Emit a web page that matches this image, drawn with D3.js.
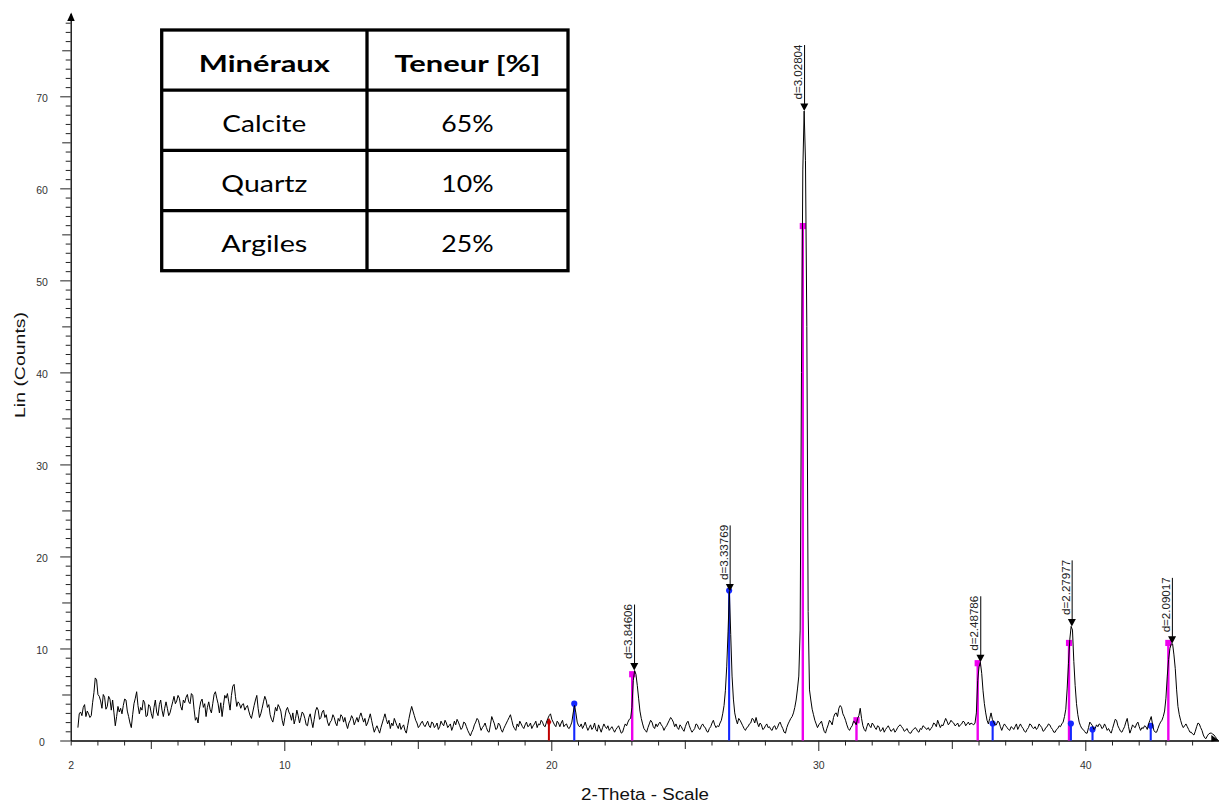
<!DOCTYPE html>
<html>
<head>
<meta charset="utf-8">
<script src="https://cdn.jsdelivr.net/npm/d3@7"></script>
<style>
  html, body { margin: 0; padding: 0; background: #fff; }
  svg { display: block; }
</style>
</head>
<body>
<svg id="chart" width="1219" height="808"></svg>
<script>
// ---- Scan: Lin (Counts) sampled every 0.05° 2θ starting at 2.27° ----
const scanStart = 2.27;
const scanStep = 0.05;
const counts = [
  1.4, 2.9, 3.1, 2.7, 3.6, 3.9, 2.6, 3.2, 2.9, 2.5, 2.7, 4.1, 5.2, 6.8, 6.6, 5.0,
  4.8, 4.3, 3.5, 5.0, 4.7, 3.4, 3.7, 4.8, 4.5, 3.3, 4.4, 3.0, 1.6, 2.6, 3.7, 3.1, 3.5, 2.9, 3.8, 4.5,
  4.4, 3.2, 2.6, 1.9, 1.4, 2.8, 4.0, 4.6, 5.3, 3.8, 2.9, 3.6, 3.3, 4.4, 4.1, 2.6, 2.7, 3.9, 3.7, 2.9,
  2.4, 3.6, 4.4, 3.1, 2.7, 3.9, 4.4, 3.3, 2.6, 3.5, 4.2, 3.5, 2.7, 3.0, 3.6, 4.2, 4.8, 4.0, 4.3, 4.9,
  4.6, 3.7, 3.3, 4.4, 4.1, 4.7, 5.0, 4.2, 4.0, 5.1, 4.9, 3.4, 2.2, 2.5, 1.9, 3.4, 4.2, 4.5, 3.6, 4.0,
  2.6, 3.6, 4.2, 3.4, 3.0, 4.0, 5.0, 5.3, 4.6, 4.0, 3.0, 4.1, 2.6, 3.8, 4.9, 4.6, 5.1, 4.2, 3.3, 4.9,
  5.9, 6.1, 4.8, 3.7, 4.2, 4.0, 3.5, 3.9, 4.0, 3.3, 3.6, 3.8, 3.2, 2.7, 2.4, 3.1, 3.8, 4.4, 4.9, 3.5,
  2.5, 2.9, 3.5, 4.2, 4.8, 4.4, 3.6, 3.9, 2.8, 2.3, 2.0, 2.7, 3.6, 3.2, 3.9, 3.6, 3.2, 2.2, 1.6, 2.5,
  3.3, 3.6, 3.1, 2.8, 2.2, 3.0, 1.8, 2.4, 3.3, 2.7, 1.9, 2.5, 3.1, 2.9, 2.4, 1.7, 1.6, 2.5, 2.9, 2.1,
  1.4, 2.3, 3.2, 3.6, 3.3, 2.3, 2.5, 3.1, 3.3, 2.5, 2.8, 2.0, 1.6, 2.0, 2.2, 2.8, 2.5, 1.9, 1.6, 2.4,
  2.1, 2.8, 2.6, 2.0, 2.5, 1.8, 1.3, 1.9, 2.2, 2.7, 2.4, 1.7, 2.1, 2.5, 2.0, 2.6, 3.0, 2.5, 2.0, 2.4,
  1.6, 1.9, 2.4, 2.9, 2.2, 1.5, 0.9, 1.3, 1.6, 1.2, 0.8, 1.4, 1.9, 2.4, 2.9, 2.3, 1.8, 2.2, 1.3, 1.9,
  1.6, 2.4, 2.0, 1.6, 1.3, 1.9, 1.2, 1.5, 1.7, 1.1, 0.8, 1.6, 2.4, 3.1, 3.7, 3.2, 2.7, 2.2, 1.9, 1.4,
  1.6, 1.9, 2.1, 1.7, 1.5, 1.8, 2.1, 1.6, 1.4, 2.0, 1.9, 1.4, 1.6, 1.9, 1.2, 1.5, 2.1, 1.8, 1.6, 2.2,
  1.9, 1.4, 1.6, 1.8, 1.1, 1.5, 2.1, 1.7, 2.3, 2.0, 1.6, 1.2, 1.4, 2.0, 1.9, 1.5, 1.1, 0.8, 0.5, 0.9,
  1.2, 1.7, 2.0, 2.4, 2.2, 1.6, 1.1, 1.4, 1.6, 1.9, 1.4, 1.0, 0.9, 1.7, 2.6, 2.2, 1.8, 1.2, 1.3, 1.9,
  1.7, 1.2, 0.9, 1.3, 1.6, 1.9, 2.2, 2.5, 2.8, 2.2, 1.6, 1.3, 1.1, 1.8, 1.5, 2.1, 1.8, 1.5, 1.3, 1.7,
  2.0, 1.5, 1.6, 1.9, 1.3, 1.6, 1.8, 2.1, 1.4, 1.8, 1.7, 2.2, 2.0, 1.6, 1.5, 2.0, 2.4, 2.7, 2.9, 2.3,
  2.0, 1.7, 1.5, 2.1, 1.9, 1.5, 1.9, 2.2, 1.5, 1.7, 1.8, 1.4, 1.3, 1.6, 2.0, 3.0, 3.8, 3.0, 2.0, 1.6,
  1.5, 1.8, 1.3, 1.6, 2.0, 1.5, 1.1, 1.4, 1.7, 1.2, 1.4, 1.9, 1.2, 1.0, 1.7, 1.3, 0.9, 1.4, 1.8, 1.5,
  1.3, 1.6, 1.1, 1.3, 1.5, 1.2, 0.9, 1.2, 1.4, 1.6, 1.2, 0.8, 0.9, 1.4, 1.8, 1.6, 2.0, 2.3, 2.4, 3.6,
  6.5, 7.6, 7.2, 6.0, 4.6, 3.2, 2.4, 1.8, 1.3, 1.1, 0.9, 1.4, 1.8, 2.2, 2.0, 1.5, 1.3, 1.8, 1.5, 1.8,
  2.0, 1.7, 1.5, 1.1, 1.4, 1.6, 1.9, 2.2, 2.5, 2.3, 2.0, 1.5, 1.8, 1.4, 1.2, 1.7, 1.5, 1.2, 1.0, 1.5,
  1.9, 2.1, 1.6, 1.2, 0.9, 1.1, 1.3, 1.8, 1.7, 1.3, 1.2, 1.6, 1.8, 1.5, 1.4, 1.0, 0.9, 1.3, 1.5, 1.9,
  2.2, 1.7, 1.4, 1.6, 1.5, 1.9, 2.2, 2.9, 3.8, 5.4, 8.0, 11.8, 16.2, 11.5, 7.0, 4.5, 3.0, 2.3, 1.8, 2.4,
  2.2, 1.9, 1.6, 1.3, 1.1, 1.4, 1.5, 1.8, 1.9, 2.4, 2.3, 1.9, 2.5, 1.9, 1.5, 1.9, 1.7, 1.2, 1.3, 1.6,
  1.8, 1.4, 1.5, 1.2, 1.1, 1.5, 1.6, 1.2, 1.4, 1.8, 2.0, 1.6, 1.3, 0.9, 0.8, 1.4, 1.8, 2.1, 2.4, 2.6,
  3.0, 3.6, 4.4, 5.6, 7.0, 12.0, 40.0, 62.0, 68.4, 63.0, 45.0, 14.0, 5.5, 4.4, 3.4, 2.8, 2.2, 1.8, 1.4, 1.7,
  1.9, 2.1, 1.5, 1.0, 0.8, 1.3, 1.7, 2.2, 2.0, 1.7, 2.5, 2.9, 3.0, 2.6, 3.5, 3.8, 3.6, 2.9, 2.6, 2.2,
  1.7, 1.3, 1.1, 1.4, 1.6, 2.1, 2.0, 1.7, 2.4, 2.7, 3.5, 2.4, 1.6, 1.2, 1.0, 1.5, 1.9, 1.6, 1.4, 1.9,
  1.7, 1.4, 1.2, 1.6, 1.5, 1.0, 1.1, 1.4, 0.9, 1.2, 1.4, 1.6, 1.3, 1.0, 1.1, 1.3, 0.9, 1.1, 1.4, 1.6,
  1.7, 1.5, 1.3, 1.0, 1.1, 1.3, 1.0, 0.8, 0.8, 1.1, 1.2, 1.4, 1.3, 1.0, 0.9, 1.3, 1.2, 1.6, 1.5, 1.3,
  1.2, 1.4, 1.1, 1.3, 1.5, 1.9, 1.8, 1.5, 2.2, 1.8, 1.4, 1.7, 1.6, 2.0, 2.4, 2.1, 1.7, 1.9, 2.2, 2.0,
  1.9, 1.6, 1.7, 1.9, 1.5, 1.7, 1.8, 2.1, 2.0, 1.6, 1.8, 2.0, 1.7, 1.9, 1.8, 1.7, 1.9, 3.0, 6.5, 8.0,
  8.5, 7.3, 5.4, 4.0, 3.0, 2.2, 1.8, 2.4, 3.0, 2.3, 2.0, 1.7, 1.7, 2.1, 2.0, 1.5, 1.1, 1.5, 1.8, 1.6,
  1.4, 1.2, 1.1, 1.5, 1.4, 1.2, 1.5, 1.8, 1.2, 1.5, 1.8, 1.5, 1.3, 1.0, 0.9, 1.2, 1.4, 1.8, 1.7, 1.4,
  1.3, 1.5, 1.2, 1.4, 1.8, 1.6, 1.4, 1.0, 1.1, 1.4, 1.5, 1.8, 1.7, 1.4, 1.2, 0.9, 0.9, 1.2, 1.3, 1.6,
  1.5, 1.8, 2.0, 2.6, 3.4, 5.6, 8.4, 11.0, 12.4, 12.0, 8.6, 6.0, 4.0, 2.8, 2.0, 1.6, 1.3, 1.2, 1.0, 0.8,
  0.8, 1.4, 2.0, 1.8, 1.6, 1.2, 1.3, 1.7, 1.5, 1.8, 1.7, 1.3, 1.4, 1.8, 1.5, 1.1, 1.3, 1.0, 0.8, 1.3,
  1.8, 2.3, 2.2, 1.6, 1.3, 1.0, 0.9, 1.2, 1.5, 2.0, 2.4, 1.5, 0.8, 1.2, 1.7, 1.5, 1.4, 1.8, 2.0, 1.5,
  1.1, 1.4, 1.3, 1.6, 1.5, 1.2, 1.8, 2.2, 2.6, 1.7, 1.1, 0.9, 0.9, 1.3, 1.7, 2.0, 2.2, 2.6, 3.2, 4.6,
  7.0, 8.8, 10.0, 10.5, 10.5, 9.3, 7.8, 5.5, 3.7, 2.8, 2.2, 1.7, 1.4, 1.6, 1.8, 1.5, 1.2, 0.9, 0.9, 0.7,
  0.6, 1.0, 1.5, 1.9, 1.8, 1.4, 1.1, 0.6, 0.3, 0.2, 0.5, 0.7, 0.8, 0.8, 0.7, 0.6, 0.4, 0.2, 0.0
];

// ---- Reference stick patterns (2θ, counts) ----
const calciteTheta  = [23.03, 29.42, 31.43, 35.97, 39.39, 43.11];
const calciteCounts = [7.2, 55.9, 2.2, 8.4, 10.6, 10.6];
const quartzTheta   = [20.86, 26.66, 36.53, 39.46, 40.27, 42.45];
const quartzCounts  = [4.0, 16.3, 1.85, 1.85, 1.2, 1.6];
const clayTheta     = [19.91];
const clayCounts    = [2.0];

// ---- Labelled peaks: d-spacing (Å) and peak height ----
const dSpacings  = [3.84606, 3.33769, 3.02804, 2.48786, 2.27977, 2.09017];
const peakCounts = [7.6, 16.2, 68.4, 8.5, 12.4, 10.5];
const wavelength = 1.5406; // Cu Kα1, Å

// ---- Axis labels ----
const xTickLabels = [2, 10, 20, 30, 40];
const yTickLabels = [0, 10, 20, 30, 40, 50, 60, 70];
const xTitle = "2-Theta - Scale";
const yTitle = "Lin (Counts)";

// ---- Composition table ----
const tableHeader = ["Minéraux", "Teneur [%]"];
const minerals    = ["Calcite", "Quartz", "Argiles"];
const contents    = ["65%", "10%", "25%"];

// ================= drawing =================
const svg = d3.select("#chart");
const axisFont = "'Liberation Sans', Arial, sans-serif";

const x = d3.scaleLinear().domain([2, 45]).range([70.7, 1218.8]);
const y = d3.scaleLinear().domain([0, 79]).range([740.5, 13.5]);

const tickLen = v => (v % 10 === 0 ? 10.5 : v % 5 === 0 ? 8.5 : 5);

// x axis
const gx = svg.append("g").attr("transform", `translate(0,${y(0)})`)
  .call(d3.axisBottom(x)
    .tickValues(d3.range(2, 45))
    .tickSize(5).tickSizeOuter(0)
    .tickFormat(d => xTickLabels.includes(d) ? d : ""));
gx.select(".domain").attr("stroke", "#000").attr("stroke-width", 1.3);
gx.selectAll(".tick line")
  .attr("y2", d => (d === 2 ? 5 : tickLen(d)))
  .attr("stroke", "#222");
gx.selectAll(".tick text")
  .attr("y", 21.5).attr("dy", "0.71em")
  .attr("font-family", axisFont).attr("font-size", 10.5).attr("fill", "#333");

// y axis
const gy = svg.append("g").attr("transform", `translate(${x(2)},0)`)
  .call(d3.axisLeft(y)
    .tickValues(d3.range(0, 79))
    .tickSize(5).tickSizeOuter(0)
    .tickFormat(d => yTickLabels.includes(d) ? d : ""));
gy.select(".domain").attr("stroke", "#000").attr("stroke-width", 1.3);
gy.selectAll(".tick line")
  .attr("x2", d => -tickLen(d))
  .attr("stroke", "#222");
gy.selectAll(".tick text")
  .attr("x", -28.7).attr("dy", "0.5em").attr("text-anchor", "middle")
  .attr("font-family", axisFont).attr("font-size", 10.5).attr("fill", "#333");

// axis arrow heads
const x0 = x(2), y0 = y(0);
svg.append("path")
  .attr("d", d3.line()([[x0 - 3.5, 21], [x0 + 4, 21], [x0 + 0.5, 12.5]]) + "Z")
  .attr("fill", "#000");
svg.append("path")
  .attr("d", d3.line()([[x(45) - 7.5, y0 - 5.5], [x(45), y0], [x(45) - 7.5, y0 + 1]]) + "Z")
  .attr("fill", "#000");

// axis titles
svg.append("text")
  .attr("x", 645).attr("y", 800).attr("text-anchor", "middle")
  .attr("font-family", axisFont).attr("font-size", 16.3)
  .attr("textLength", 128).attr("lengthAdjust", "spacingAndGlyphs")
  .attr("fill", "#111")
  .text(xTitle);
svg.append("text")
  .attr("transform", "translate(25,365) rotate(-90)")
  .attr("text-anchor", "middle")
  .attr("font-family", axisFont).attr("font-size", 15)
  .attr("textLength", 106).attr("lengthAdjust", "spacingAndGlyphs")
  .attr("fill", "#111")
  .text(yTitle);

// stick patterns (drawn beneath the scan)
function sticks(theta, vals, color, width, marker) {
  const g = svg.append("g");
  g.selectAll("line").data(theta).join("line")
    .attr("x1", d => x(d)).attr("x2", d => x(d))
    .attr("y1", y(0)).attr("y2", (d, i) => y(vals[i]))
    .attr("stroke", color).attr("stroke-width", width);
  g.selectAll("path").data(theta).join("path")
    .attr("transform", (d, i) => `translate(${x(d)},${y(vals[i])})`)
    .attr("d", d3.symbol().type(marker.type).size(marker.size))
    .attr("fill", color);
}
sticks(calciteTheta, calciteCounts, "#ee00ee", 2.4, { type: d3.symbolSquare, size: 38 });
sticks(quartzTheta, quartzCounts, "#1428ff", 2.1, { type: d3.symbolCircle, size: 30 });
sticks(clayTheta, clayCounts, "#c00000", 2.0, { type: d3.symbolDiamond, size: 22 });

// scan line
const scanLine = d3.line()
  .x((d, i) => x(scanStart + i * scanStep))
  .y(d => y(d));
svg.append("path")
  .datum(counts)
  .attr("d", scanLine)
  .attr("fill", "none")
  .attr("stroke", "#000")
  .attr("stroke-width", 1)
  .attr("stroke-linejoin", "round");

// peak markers with d-spacing labels
const peaks = dSpacings.map((d, i) => ({
  d,
  theta: 2 * Math.asin(wavelength / (2 * d)) * 180 / Math.PI,
  counts: peakCounts[i]
}));
const fmtD = d3.format(".5f");
const pg = svg.selectAll("g.peak").data(peaks).join("g")
  .attr("class", "peak")
  .attr("transform", p => `translate(${x(p.theta)},${y(p.counts)})`);
pg.append("path")
  .attr("d", d3.line()([[-4, -7.5], [4, -7.5], [0, 0]]) + "Z")
  .attr("fill", "#000");
pg.append("line")
  .attr("x1", 0.3).attr("x2", 0.3)
  .attr("y1", -7).attr("y2", -66)
  .attr("stroke", "#000").attr("stroke-width", 1);
pg.append("text")
  .attr("transform", "translate(-2.3,-11.5) rotate(-90)")
  .attr("font-family", axisFont).attr("font-size", 10)
  .attr("textLength", 55).attr("lengthAdjust", "spacingAndGlyphs")
  .attr("fill", "#222")
  .text(p => "d=" + fmtD(p.d));

// composition table
const tableFont = "Lato, 'Open Sans', sans-serif";
const tLeft = 161.7, tRight = 568, tSplit = 367;
const rows = d3.scaleBand().domain(d3.range(4)).range([30, 270.7]);
const colCenter = [(tLeft + tSplit) / 2, (tSplit + tRight) / 2];
const tableRows = [tableHeader].concat(minerals.map((m, i) => [m, contents[i]]));
const widths = {
  "Minéraux": 131, "Teneur [%]": 146, "Calcite": 84, "Quartz": 86,
  "Argiles": 86, "65%": 52.3, "10%": 52.3, "25%": 52.3
};

const tg = svg.append("g");
tg.append("rect")
  .attr("x", tLeft).attr("y", 30)
  .attr("width", tRight - tLeft).attr("height", 240.7)
  .attr("fill", "#fff").attr("stroke", "#000").attr("stroke-width", 3.3);
tg.append("line")
  .attr("x1", tSplit).attr("x2", tSplit).attr("y1", 30).attr("y2", 270.7)
  .attr("stroke", "#000").attr("stroke-width", 3.3);
tg.selectAll("line.row").data([1, 2, 3]).join("line")
  .attr("class", "row")
  .attr("x1", tLeft).attr("x2", tRight)
  .attr("y1", r => rows(r)).attr("y2", r => rows(r))
  .attr("stroke", "#000").attr("stroke-width", 3.3);
tableRows.forEach((cells, r) => {
  cells.forEach((txt, c) => {
    tg.append("text")
      .attr("x", colCenter[c])
      .attr("y", rows(r) + rows.bandwidth() / 2 + 11.5)
      .attr("text-anchor", "middle")
      .attr("font-family", tableFont)
      .attr("font-size", 23.5)
      .attr("font-weight", r === 0 ? 700 : 400)
      .attr("textLength", widths[txt])
      .attr("lengthAdjust", "spacingAndGlyphs")
      .attr("fill", "#000")
      .text(txt);
  });
});
</script>
</body>
</html>
